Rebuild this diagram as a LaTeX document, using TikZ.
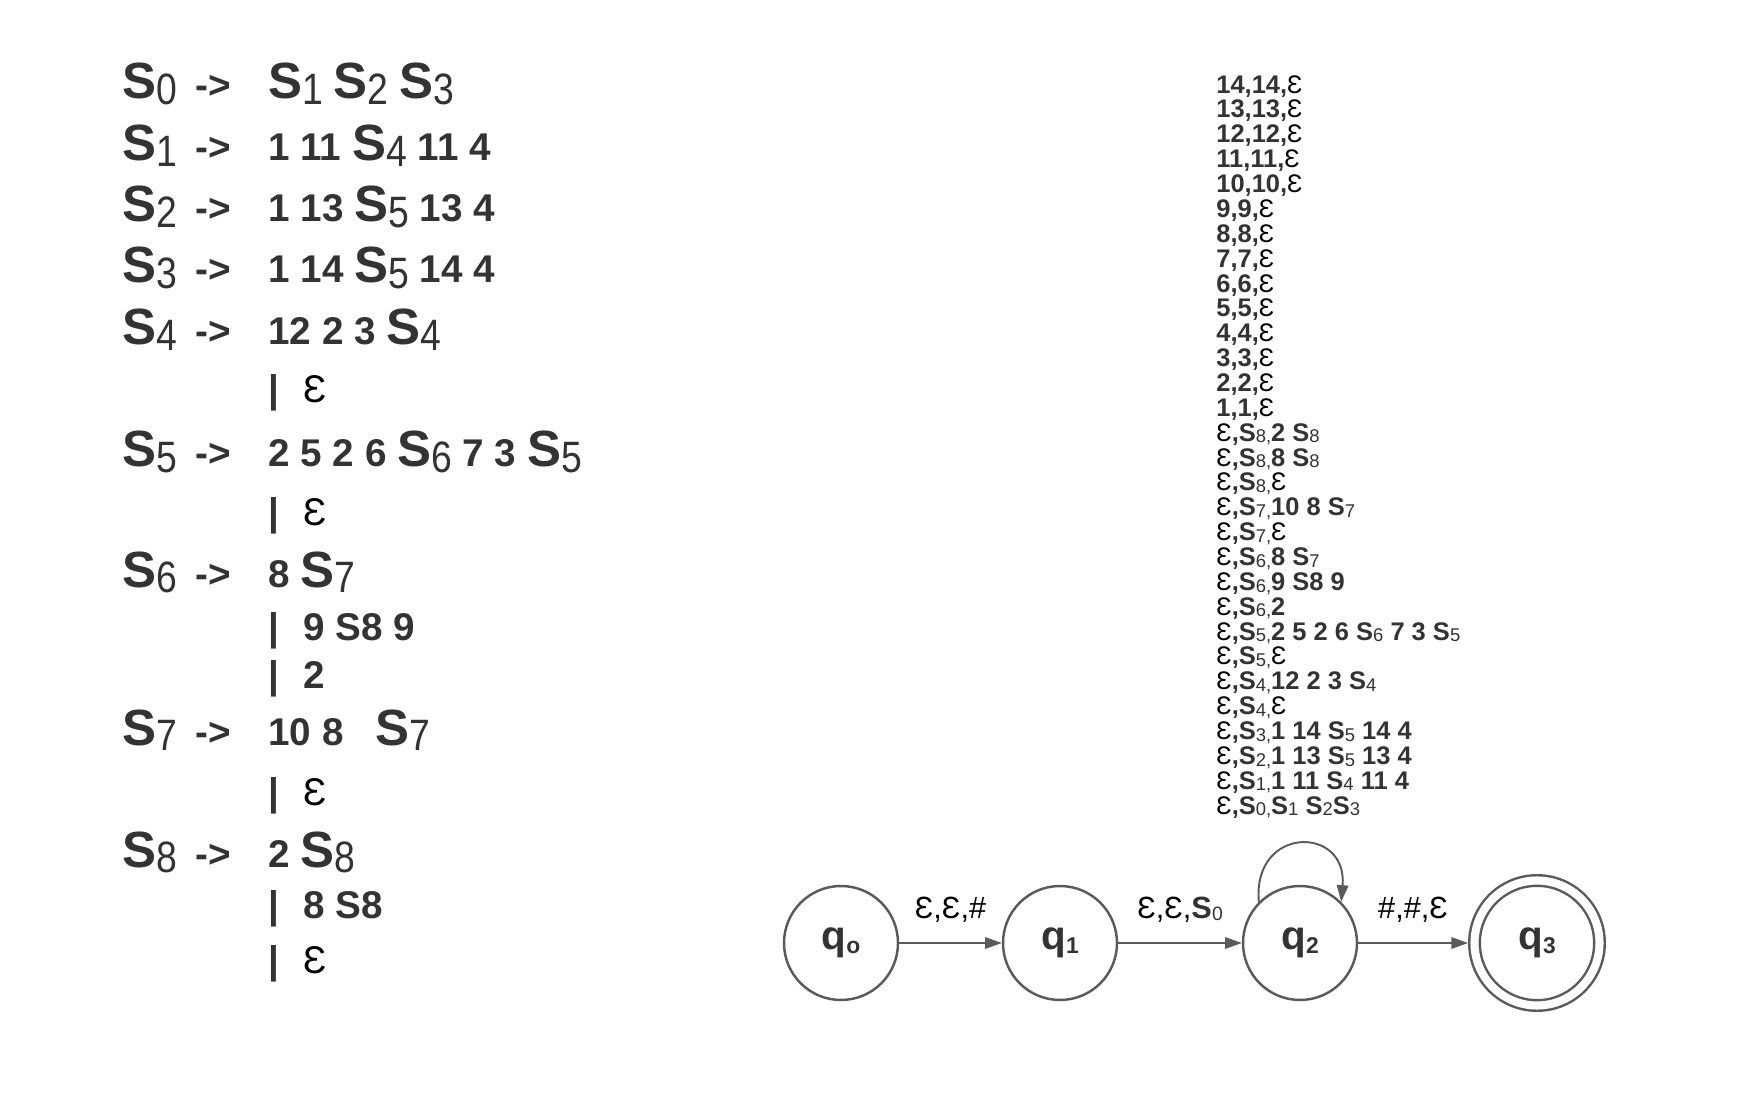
\documentclass[tikz,border=0pt]{standalone}
\usepackage{fontspec}
\setmainfont{Liberation Sans}
\usetikzlibrary{positioning,arrows.meta}
\definecolor{ink}{HTML}{333333}
\definecolor{wire}{HTML}{5A5A5A}
\newcommand{\ep}{{\mdseries\color{black}Ɛ}}
\newcommand{\bigS}[1]{{\fontsize{29}{30}\selectfont S}\raisebox{-3pt}{\scalebox{0.85}[1]{\mdseries\fontsize{25}{25}\selectfont #1}}}
\newcommand{\smS}[1]{S\raisebox{-1pt}{\mdseries\fontsize{10.5}{10.5}\selectfont #1}}
\newcommand{\qs}[1]{q\raisebox{-2pt}{\fontsize{13}{13}\selectfont #1}}
\tikzstyle{lhs} = [anchor=base west, inner sep=0pt, text=ink, font=\fontsize{22}{24}\selectfont\bfseries]
\tikzstyle{state} = [circle, draw=wire, line width=1.4pt, minimum size=2.28cm, inner sep=0pt, text=ink, font=\fontsize{23}{24}\selectfont\bfseries]
\tikzstyle{accept} = [state, minimum size=2.5cm, double, double distance=4.6pt, outer sep=3.7pt]
\tikzstyle{connect} = [draw=wire, line width=1.1pt, -{Triangle[length=9.5pt,width=6.5pt]}]
\tikzstyle{lbl} = [above=11pt, inner sep=0pt, font=\fontsize{17.5}{19}\selectfont]

\begin{document}
\begin{tikzpicture}[x=0.02cm, y=-0.02cm]
\useasboundingbox (0,0) rectangle (1745,1111);
% grammar
\node (r0l) [lhs] at (122,99) {\bigS{0}};
\node (r0a) [lhs] at (195,99) {->};
\node (r0r) [lhs] at (268,99) {\bigS{1} \bigS{2} \bigS{3}};
\node (r1l) [lhs] at (122,161) {\bigS{1}};
\node (r1a) [lhs] at (195,161) {->};
\node (r1r) [lhs] at (268,161) {1 11 \bigS{4} 11 4};
\node (r2l) [lhs] at (122,222) {\bigS{2}};
\node (r2a) [lhs] at (195,222) {->};
\node (r2r) [lhs] at (268,222) {1 13 \bigS{5} 13 4};
\node (r3l) [lhs] at (122,283) {\bigS{3}};
\node (r3a) [lhs] at (195,283) {->};
\node (r3r) [lhs] at (268,283) {1 14 \bigS{5} 14 4};
\node (r4l) [lhs] at (122,345) {\bigS{4}};
\node (r4a) [lhs] at (195,345) {->};
\node (r4r) [lhs] at (268,345) {12 2 3 \bigS{4}};
\node (a4) [lhs] at (268,403) {\makebox[20pt][l]{|}\ep};
\node (r5l) [lhs] at (122,467) {\bigS{5}};
\node (r5a) [lhs] at (195,467) {->};
\node (r5r) [lhs] at (268,467) {2 5 2 6 \bigS{6} 7 3 \bigS{5}};
\node (a5) [lhs] at (268,525) {\makebox[20pt][l]{|}\ep};
\node (r6l) [lhs] at (122,587) {\bigS{6}};
\node (r6a) [lhs] at (195,587) {->};
\node (r6r) [lhs] at (268,587) {8 \bigS{7}};
\node (a6a) [lhs] at (268,640) {\makebox[20pt][l]{|}9 S8 9};
\node (a6b) [lhs] at (268,688) {\makebox[20pt][l]{|}2};
\node (r7l) [lhs] at (122,745) {\bigS{7}};
\node (r7a) [lhs] at (195,745) {->};
\node (r7r) [lhs] at (268,745) {10 8\hspace{12pt} \bigS{7}};
\node (a7) [lhs] at (268,805) {\makebox[20pt][l]{|}\ep};
\node (r8l) [lhs] at (122,867) {\bigS{8}};
\node (r8a) [lhs] at (195,867) {->};
\node (r8r) [lhs] at (268,867) {2 \bigS{8}};
\node (a8a) [lhs] at (268,918) {\makebox[20pt][l]{|}8 S8};
\node (a8b) [lhs] at (268,973) {\makebox[20pt][l]{|}\ep};

% automaton
\node (q0) [state] at (841,943) {\qs{o}};
\node (q1) [state] at (1060,943) {\qs{1}};
\node (q2) [state] at (1300,943) {\qs{2}};
\node (q3) [accept] at (1537,943) {\qs{3}};

\draw [connect] (q0) -- node[lbl] (l01) {\ep,\ep,\#} (q1);
\draw [connect] (q1) -- node[lbl] (l12) {\ep,\ep,\textcolor{ink}{\textbf{S}\raisebox{-1pt}{\fontsize{11}{11}\selectfont 0}}} (q2);
\draw [connect] (q2) -- node[lbl] (l23) {\#,\#,\ep} (q3);
\draw [connect] (q2.135) to[out=95, in=85, looseness=2.4] (q2.45);

% stack moves on the loop
\node (stack) [anchor=north west, inner sep=0pt, align=left, text=ink, font=\fontsize{14.5}{14.15}\selectfont\bfseries] at (1216,75) {
14,14,\ep\\ 13,13,\ep\\ 12,12,\ep\\ 11,11,\ep\\ 10,10,\ep\\
9,9,\ep\\ 8,8,\ep\\ 7,7,\ep\\ 6,6,\ep\\ 5,5,\ep\\
4,4,\ep\\ 3,3,\ep\\ 2,2,\ep\\ 1,1,\ep\\
\ep,\smS{8,}2 \smS{8}\\
\ep,\smS{8,}8 \smS{8}\\
\ep,\smS{8,}\ep\\
\ep,\smS{7,}10 8 \smS{7}\\
\ep,\smS{7,}\ep\\
\ep,\smS{6,}8 \smS{7}\\
\ep,\smS{6,}9 S8 9\\
\ep,\smS{6,}2\\
\ep,\smS{5,}2 5 2 6 \smS{6} 7 3 \smS{5}\\
\ep,\smS{5,}\ep\\
\ep,\smS{4,}12 2 3 \smS{4}\\
\ep,\smS{4,}\ep\\
\ep,\smS{3,}1 14 \smS{5} 14 4\\
\ep,\smS{2,}1 13 \smS{5} 13 4\\
\ep,\smS{1,}1 11 \smS{4} 11 4\\
\ep,\smS{0,}\smS{1} \smS{2}\smS{3}};
\end{tikzpicture}
\end{document}
